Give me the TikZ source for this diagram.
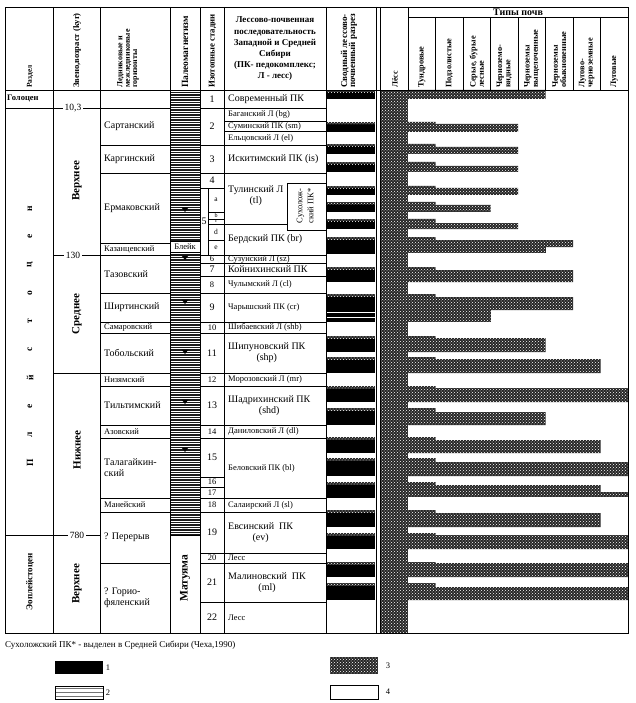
\documentclass[tikz,border=0pt]{standalone}
\usepackage{fontspec}
\setmainfont{Liberation Serif}
\usetikzlibrary{patterns}
\tikzset{
    TL/.style ={line width=0.7pt},
    LB/.style ={font=\fontsize{10}{11}\selectfont, inner sep=0pt},
    SM/.style ={font=\fontsize{8.5}{9}\selectfont, inner sep=0pt},
    HD/.style ={font=\bfseries\fontsize{8.3}{8.3}\selectfont, rotate=90, anchor=west, align=left, inner sep=0pt},
    BG/.style ={font=\bfseries\fontsize{11}{12}\selectfont, rotate=90, inner sep=0pt},
    AG/.style ={font=\fontsize{9.5}{10}\selectfont, fill=white, inner sep=1.5pt},
    ST/.style ={fill=black!85, postaction={pattern=crosshatch dots, pattern color=white}},
    PM/.style ={fill=black}
}
\begin{document}
\begin{tikzpicture}[x=1pt, y=-1pt]
    \useasboundingbox (0,0) rectangle (636,703);
    % palaeomagnetic stripes
    \fill[black!90] (170,90) rectangle (200,535);
    \foreach \y in {91,93.5,...,534}
        \draw[white, line width=0.75pt] (170,\y) -- (200,\y);
    % loess column and soil bars
    \fill[ST] (381,90) rectangle (408,633);
    \foreach \s/\m/\b/\k in {90/90/99/5, 122/124/132/4, 144/147/154/4, 162/166/172/4, 186/188/195/4, 202/205/212/3, 219/223/229/4, 237/240/247/6, 267/270/282/6, 294/297/310/6, 336/338/352/5, 357/359/373/7, 386/388/402/8, 408/412/425/5, 437/440/453/7, 458/462/476/8, 482/485/492/7, 510/513/527/7, 533/535/549/8, 562/563/577/8, 583/587/600/8}{
        \fill[ST] (408,\s) -- (435.5,\s) -- (435.5,\m) -- ({408+27.5*\k},\m) -- ({408+27.5*\k},\b) -- (408,\b) -- cycle;
        \fill[black] (327,\s) rectangle (375,\b);
        \fill[ST] (327,\s) rectangle (375,\s+2.5);
    }
    \fill[ST] (408,247) rectangle (545.5,253);
    \fill[ST] (408,310) rectangle (490.5,322);
    \fill[ST] (408,492) rectangle (628,497);
    \fill[black] (327,247) rectangle (375,254);
    \fill[black] (327,310) rectangle (375,322);
    \fill[black] (327,492) rectangle (375,498);
    \draw[white, line width=0.8pt] (327,312) -- (375,312) (327,317) -- (375,317);

    % table frame
    \draw[TL] (5,7) rectangle (628,633);
    \draw[TL] (5,90) -- (628,90);
    \foreach \x in {53,100,170,200,224,326,376,380}
        \draw[TL] (\x,7) -- (\x,633);
    \draw[TL] (408,7) -- (408,90) (408,17) -- (628,17);
    \foreach \i in {1,...,7}
        \draw[TL] ({408+27.5*\i},17) -- ({408+27.5*\i},90);
    \foreach \y in {108,535}
        \draw[TL] (5,\y) -- (53,\y);
    \foreach \y in {108,255,373,535}
        \draw[TL] (53,\y) -- (100,\y);
    \draw[TL] (170,535) -- (200,535);

    % header
    \node[HD, font=\bfseries\fontsize{7.5}{8}\selectfont] (hRazdel) at (30,88) {Раздел};
    \node[HD, font=\bfseries\fontsize{8.6}{9}\selectfont] (hZveno) at (77,88) {Звено,возраст (kyr)};
    \node[HD, font=\bfseries\fontsize{8}{7.4}\selectfont] (hLedn) at (128,88) {Ледниковые и\\межледниковые\\горизонты};
    \node[HD, font=\bfseries\fontsize{9.5}{11}\selectfont] (hPaleo) at (185,88) {Палеомагнетизм};
    \node[HD, font=\bfseries\fontsize{8.8}{11}\selectfont] (hIsot) at (212.5,88) {Изотопные стадии};
    \node[font=\bfseries\fontsize{9}{11.2}\selectfont, align=center, inner sep=0pt] (hLps) at (275,49)
        {Лессово-почвенная\\последовательность\\Западной и Средней\\Сибири\\(ПК- педокомплекс;\\Л - лесс)};
    \node[HD, font=\bfseries\fontsize{9}{8}\selectfont] (hSvod) at (349,88) {Сводный лессово-\\почвенный разрез};
    \node[HD, font=\bfseries\fontsize{8}{8}\selectfont] (hLoess) at (395,88) {Лёсс};
    \node[font=\bfseries\fontsize{10}{11}\selectfont, inner sep=0pt] (hTypes) at (518,12) {Типы почв};
    \foreach \txt [count=\i] in {Тундровые, Подзолистые, {Серые, бурые\\лесные}, {Черноземо-\\видные}, {Черноземы\\выщелоченные}, {Черноземы\\обыкновенные}, {Лугово-\\черноземные}, Луговые}
        \node[HD] (s\i) at ({394.25+27.5*\i},88) {\txt};

    % division and link
    \node[font=\bfseries\fontsize{8.5}{9}\selectfont, anchor=west, inner sep=0pt] (holo) at (7,98) {Голоцен};
    \foreach \ch [count=\i from 0] in {П,л,е,й,с,т,о,ц,е,н}
        \node[BG, font=\bfseries\fontsize{9.5}{10}\selectfont] (pl\i) at (30,{463-28.3*\i}) {\ch};
    \node[BG, font=\bfseries\fontsize{9}{10}\selectfont] (eo) at (30,582) {Эоплейстоцен};
    \node[BG] (up1) at (77,181) {Верхнее};
    \node[BG] (mid1) at (77,314) {Среднее};
    \node[BG] (low1) at (77,450) {Нижнее};
    \node[BG] (up2) at (77,584) {Верхнее};
    \node[AG] (a10) at (73,108) {10,3};
    \node[AG] (a130) at (73,255) {130};
    \node[AG] (a780) at (77,535) {780};

    % glacial and interglacial horizons
    \foreach \ya/\yb/\txt/\fs in {108/145/Сартанский/LB, 145/173/Каргинский/LB, 173/243/Ермаковский/LB, 243/255/Казанцевский/SM, 255/293/Тазовский/LB, 293/322/Ширтинский/LB, 322/333/Самаровский/SM, 333/373/Тобольский/LB, 373/386/Низямский/SM, 386/425/Тильтимский/LB, 425/438/Азовский/SM, 438/498/{Талагайкин-\\ский}/LB, 498/512/Манейский/SM, 512/563/{? Перерыв}/LB, 563/633/{? Горио-\\фяленский}/LB}{
        \draw[TL] (100,\ya) rectangle (170,\yb);
        \node[\fs, anchor=west, align=left] (g\ya) at (104,{(\ya+\yb)/2}) {\txt};
    }

    % palaeomagnetism
    \node[draw, TL, fill=white, minimum width=30pt, minimum height=11pt, inner sep=0pt, font=\fontsize{8.5}{9}\selectfont] (blake) at (185,246.5) {Блейк};
    \foreach \y in {210,258,302,352,402,450}
        \fill[PM] (181.5,\y-2.5) -- (188.5,\y-2.5) -- (185,\y+2) -- cycle;
    \node[BG, font=\bfseries\fontsize{11.5}{12}\selectfont] (matu) at (185,578) {Матуяма};

    % isotope stages
    \foreach \ya/\yb/\txt/\fs in {90/108/1/LB, 108/145/2/LB, 145/173/3/LB, 173/188/4/LB, 255/263/6/SM, 263/276/7/LB, 276/293/8/SM, 293/322/9/LB, 322/333/10/SM, 333/373/11/LB, 373/386/12/SM, 386/425/13/LB, 425/438/14/SM, 438/477/15/LB, 477/487/16/SM, 487/498/17/SM, 498/512/18/SM, 512/553/19/LB, 553/563/20/SM, 563/602/21/LB, 602/633/22/LB}{
        \draw[TL] (200,\ya) rectangle (224,\yb);
        \node[\fs] (i\ya) at (212,{(\ya+\yb)/2}) {\txt};
    }
    \draw[TL] (200,188) rectangle (208,255);
    \node[LB] (i5) at (204,221) {5};
    \foreach \ya/\yb/\txt/\sz in {188/212/a/7.5, 212/219/b/6, 219/224/c/4.5, 224/240/d/7.5, 240/255/e/7.5}{
        \draw[TL] (208,\ya) rectangle (224,\yb);
        \node[inner sep=0pt, font=\fontsize{\sz}{\sz}\selectfont] (i5\txt) at (216,{(\ya+\yb)/2}) {\txt};
    }

    % loess-soil sequence
    \foreach \ya/\yb/\txt/\fs in {90/108/{Современный ПК}/LB, 108/121/{Баганский Л (bg)}/SM, 121/131/{Суминский ПК (sm)}/SM, 131/145/{Ельцовский Л (el)}/SM, 145/173/{Искитимский ПК (is)}/LB, 224/255/{Бердский ПК (br)}/LB, 255/263/{Сузунский Л (sz)}/SM, 263/276/{Койнихинский ПК}/LB, 276/293/{Чулымский Л (cl)}/SM, 293/322/{Чарышский ПК (cr)}/SM, 322/333/{Шибаевский Л (shb)}/SM, 333/373/{Шипуновский ПК\\(shp)}/LB, 373/386/{Морозовский Л (mr)}/SM, 386/425/{Шадрихинский ПК\\(shd)}/LB, 425/438/{Даниловский Л (dl)}/SM, 438/498/{Беловский ПК (bl)}/SM, 498/512/{Салаирский Л (sl)}/SM, 512/553/{Евсинский\ \ ПК\\(ev)}/LB, 553/563/Лесс/SM, 563/602/{Малиновский\ \ ПК\\(ml)}/LB, 602/633/Лесс/SM}{
        \draw[TL] (224,\ya) rectangle (326,\yb);
        \node[\fs, anchor=west, align=center] (q\ya) at (228,{(\ya+\yb)/2}) {\txt};
    }
    \draw[TL] (224,224) -- (287,224);
    \node[LB, anchor=west, align=center] (tl) at (228,196) {Тулинский Л\\(tl)};
    \draw[TL, fill=white] (287,183) rectangle (326,230);
    \node[SM, rotate=90, align=center, font=\fontsize{8.5}{11}\selectfont] (sukh) at (305,206) {Сухолож-\\ский ПК*};

    % note and legend
    \node[SM, anchor=west, font=\fontsize{9}{10}\selectfont] (note) at (5,645) {Сухоложский ПК* - выделен в Средней Сибири (Чеха,1990)};
    \fill[black] (55,661) rectangle (103,674);
    \node[SM] (l1) at (108,667.5) {1};
    \draw[TL, fill=white] (55,686) rectangle (103,699);
    \foreach \y in {688.5,692.5,696.5}
        \draw[black!55, line width=1.6pt] (55.5,\y) -- (102.5,\y);
    \node[SM] (l2) at (108,692.5) {2};
    \fill[ST] (330,657) rectangle (378,674);
    \node[SM] (l3) at (388,665.5) {3};
    \draw[TL] (330,685) rectangle (378,699);
    \node[SM] (l4) at (388,692) {4};
\end{tikzpicture}
\end{document}
